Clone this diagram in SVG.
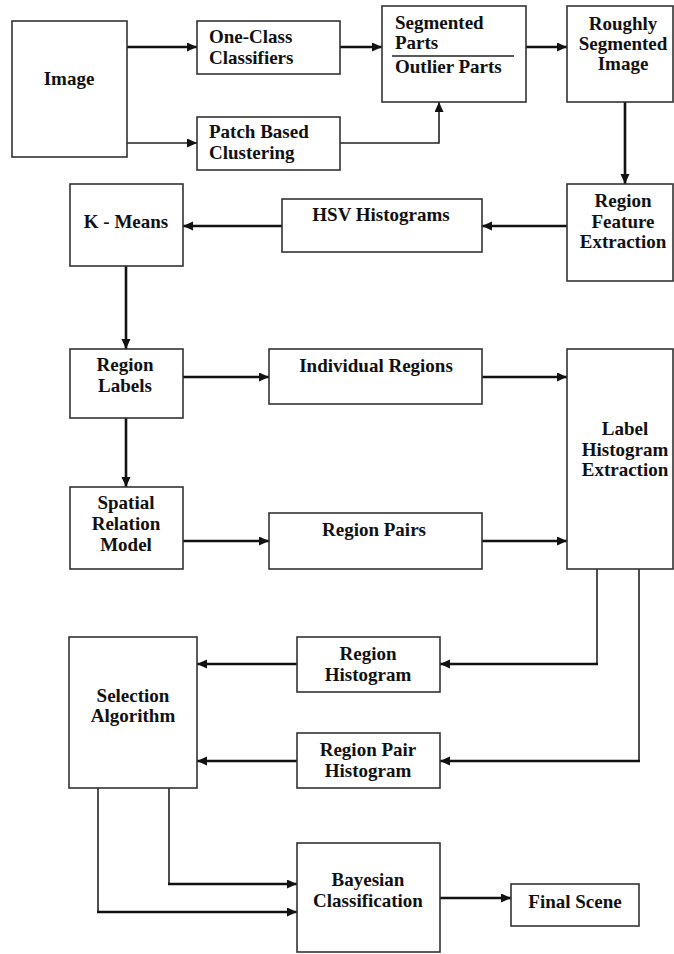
<svg xmlns="http://www.w3.org/2000/svg" width="674" height="954" viewBox="0 0 674 954">
<style>
.box{fill:#fff;stroke:#333;stroke-width:1.6}
.t{font-family:'Liberation Serif','Times New Roman','DejaVu Serif',serif;font-weight:700;font-size:19px;fill:#111}
.c{text-anchor:middle}
.k{fill:none;stroke:#111;stroke-width:2.6}
.n{fill:none;stroke:#222;stroke-width:1.6}
</style>
<defs>
<marker id="ah" markerUnits="userSpaceOnUse" markerWidth="11" markerHeight="10" refX="10" refY="4.5" orient="auto">
<path d="M0,0 L10,4.5 L0,9 z" fill="#111"/>
</marker>
</defs>
<rect width="674" height="954" fill="#fff"/>
<g id="connectors">
<path class="k" d="M127,47 H197" marker-end="url(#ah)"/>
<path class="n" d="M127,143 H197" marker-end="url(#ah)"/>
<path class="k" d="M340,47 H382" marker-end="url(#ah)"/>
<path class="n" d="M340,143 H439 V102" marker-end="url(#ah)"/>
<path class="k" d="M526,47 H567" marker-end="url(#ah)"/>
<path class="k" d="M625,102 V184" marker-end="url(#ah)"/>
<path class="k" d="M567,226 H482" marker-end="url(#ah)"/>
<path class="k" d="M282,226 H183" marker-end="url(#ah)"/>
<path class="k" d="M126,266 V349" marker-end="url(#ah)"/>
<path class="k" d="M183,377 H269" marker-end="url(#ah)"/>
<path class="k" d="M482,377 H567" marker-end="url(#ah)"/>
<path class="k" d="M126,418 V487" marker-end="url(#ah)"/>
<path class="k" d="M183,541 H269" marker-end="url(#ah)"/>
<path class="k" d="M482,541 H567" marker-end="url(#ah)"/>
<path class="n" d="M597,569 V664"/>
<path class="k" d="M598,664 H440" marker-end="url(#ah)"/>
<path class="n" d="M639,569 V761"/>
<path class="k" d="M640,761 H440" marker-end="url(#ah)"/>
<path class="k" d="M297,664 H197" marker-end="url(#ah)"/>
<path class="k" d="M297,761 H197" marker-end="url(#ah)"/>
<path class="n" d="M169,788 V884"/>
<path class="k" d="M168,884 H297" marker-end="url(#ah)"/>
<path class="n" d="M98,788 V912"/>
<path class="k" d="M97,912 H297" marker-end="url(#ah)"/>
<path class="k" d="M440,898 H511" marker-end="url(#ah)"/>
</g>
<g id="image"><rect class="box" x="12" y="21" width="115" height="136"/><text class="t c" x="69" y="85">Image</text></g>
<g id="one-class"><rect class="box" x="197" y="21" width="143" height="53"/><text class="t" x="209" y="43">One-Class</text><text class="t" x="209" y="64">Classifiers</text></g>
<g id="patch"><rect class="box" x="197" y="117" width="143" height="53"/><text class="t" x="209" y="138">Patch Based</text><text class="t" x="209" y="159">Clustering</text></g>
<g id="segmented"><rect class="box" x="382" y="6" width="144" height="96"/><text class="t" x="395" y="29">Segmented</text><text class="t" x="395" y="49">Parts</text><line x1="392" y1="56" x2="514" y2="56" stroke="#222" stroke-width="1.3"/><text class="t" x="395" y="73">Outlier Parts</text></g>
<g id="roughly"><rect class="box" x="567" y="6" width="106" height="96"/><text class="t c" x="623" y="30">Roughly</text><text class="t c" x="623" y="50">Segmented</text><text class="t c" x="623" y="70">Image</text></g>
<g id="region-feature"><rect class="box" x="567" y="184" width="106" height="97"/><text class="t c" x="623" y="207">Region</text><text class="t c" x="623" y="228">Feature</text><text class="t c" x="623" y="248">Extraction</text></g>
<g id="hsv"><rect class="box" x="282" y="199" width="200" height="53"/><text class="t c" x="381" y="221">HSV Histograms</text></g>
<g id="kmeans"><rect class="box" x="70" y="184" width="113" height="82"/><text class="t c" x="126" y="228">K - Means</text></g>
<g id="region-labels"><rect class="box" x="70" y="349" width="113" height="69"/><text class="t c" x="125" y="371">Region</text><text class="t c" x="125" y="392">Labels</text></g>
<g id="individual"><rect class="box" x="269" y="349" width="213" height="55"/><text class="t c" x="376" y="372">Individual Regions</text></g>
<g id="spatial"><rect class="box" x="70" y="487" width="113" height="82"/><text class="t c" x="126" y="509">Spatial</text><text class="t c" x="126" y="530">Relation</text><text class="t c" x="126" y="551">Model</text></g>
<g id="region-pairs"><rect class="box" x="269" y="513" width="213" height="56"/><text class="t c" x="374" y="536">Region Pairs</text></g>
<g id="label-hist"><rect class="box" x="567" y="349" width="106" height="220"/><text class="t c" x="625" y="435">Label</text><text class="t c" x="625" y="456">Histogram</text><text class="t c" x="625" y="476">Extraction</text></g>
<g id="selection"><rect class="box" x="69" y="637" width="128" height="151"/><text class="t c" x="133" y="702">Selection</text><text class="t c" x="133" y="722">Algorithm</text></g>
<g id="region-hist"><rect class="box" x="297" y="637" width="143" height="55"/><text class="t c" x="368" y="660">Region</text><text class="t c" x="368" y="681">Histogram</text></g>
<g id="region-pair-hist"><rect class="box" x="297" y="733" width="143" height="55"/><text class="t c" x="368" y="756">Region Pair</text><text class="t c" x="368" y="777">Histogram</text></g>
<g id="bayesian"><rect class="box" x="297" y="843" width="143" height="109"/><text class="t c" x="368" y="886">Bayesian</text><text class="t c" x="368" y="907">Classification</text></g>
<g id="final-scene"><rect class="box" x="511" y="884" width="128" height="42"/><text class="t c" x="575" y="908">Final Scene</text></g>
</svg>
